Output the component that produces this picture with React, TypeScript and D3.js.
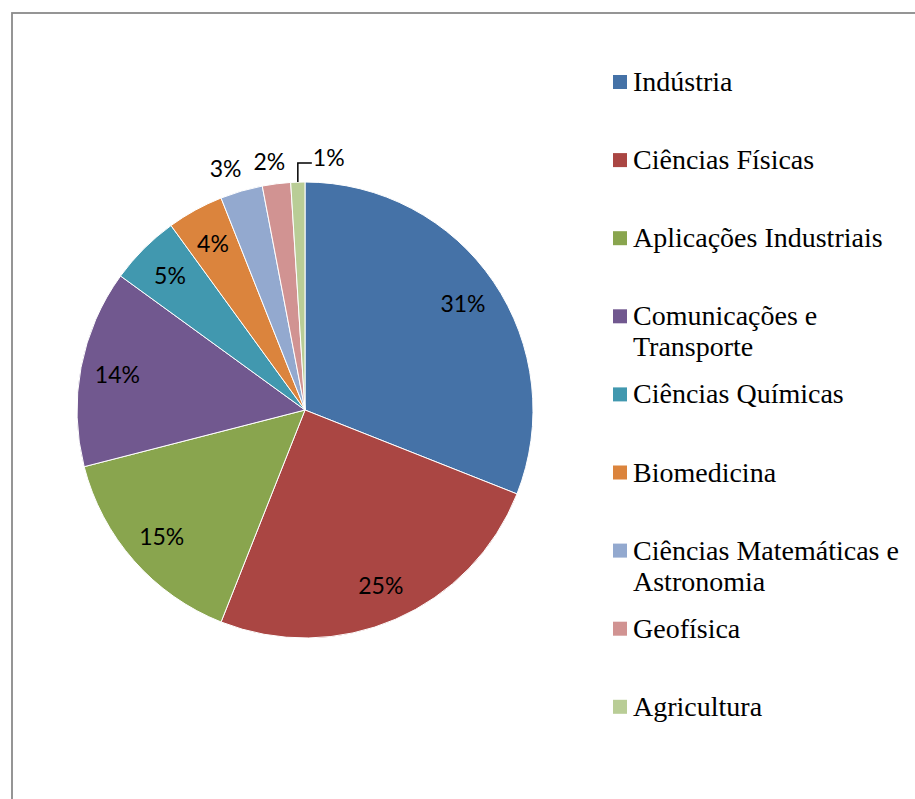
import React from "react";
import * as d3 from "d3";

const categories = [
  "Indústria",
  "Ciências Físicas",
  "Aplicações Industriais",
  "Comunicações e Transporte",
  "Ciências Químicas",
  "Biomedicina",
  "Ciências Matemáticas e Astronomia",
  "Geofísica",
  "Agricultura",
];
const values = [31, 25, 15, 14, 5, 4, 3, 2, 1];
const legendLines = [
  ["Indústria"],
  ["Ciências Físicas"],
  ["Aplicações Industriais"],
  ["Comunicações e", "Transporte"],
  ["Ciências Químicas"],
  ["Biomedicina"],
  ["Ciências Matemáticas e", "Astronomia"],
  ["Geofísica"],
  ["Agricultura"],
];
const colors = [
  "#4572A7",
  "#AA4643",
  "#89A54E",
  "#71588F",
  "#4198AF",
  "#DB843D",
  "#93A9CF",
  "#D19392",
  "#B9CD96",
];
// label placement mode: inside, outside, leader
const labelMode = ["in", "in", "in", "in", "in", "in", "out", "out", "leader"];

export default function App() {
  const W = 915;
  const H = 799;
  const cx = 305;
  const cy = 410;
  const R = 228;
  const pie = d3.pie<number>().sort(null).value((d) => d)(values);
  const arc = d3.arc<d3.PieArcDatum<number>>().innerRadius(0).outerRadius(R);
  const total = d3.sum(values);
  const labelFont = "Lato, 'Open Sans', sans-serif";
  const legendFont = "'Liberation Serif', 'DejaVu Serif', serif";
  const labelSize = 23;

  const legendX = 613;
  const legendY0 = 82;
  const legendStep = 78.1;

  return (
    <svg
      width={W}
      height={H}
      style={{ position: "absolute", left: 0, top: 0, background: "#fff" }}
    >
      <rect x={0} y={0} width={W} height={H} fill="#fff" />
      <rect
        x={12}
        y={13}
        width={W + 20}
        height={H + 20}
        fill="none"
        stroke="#8a8a8a"
        strokeWidth={1.8}
      />
      <g transform={`translate(${cx},${cy})`}>
        {pie.map((p, i) => (
          <path key={i} d={arc(p) || ""} fill={colors[i]} stroke="#fff" strokeWidth={1} />
        ))}
        {pie.map((p, i) => {
          const mid = (p.startAngle + p.endAngle) / 2;
          const pct = `${Math.round((p.value / total) * 100)}%`;
          const mode = labelMode[i];
          if (mode === "leader") {
            const px = R * Math.sin(mid);
            const py = -R * Math.cos(mid);
            const ty = py - 19;
            const tx = px + 14;
            return (
              <g key={i}>
                <polyline
                  points={`${px},${py} ${px},${ty} ${tx},${ty}`}
                  fill="none"
                  stroke="#000"
                  strokeWidth={1.5}
                />
                <text
                  x={tx + 1}
                  y={ty - 6}
                  fontFamily={labelFont}
                  fontSize={labelSize}
                  fill="#000"
                  dominantBaseline="central"
                >
                  {pct}
                </text>
              </g>
            );
          }
          if (mode === "out") {
            const ro = R + 10;
            const px = ro * Math.sin(mid);
            const py = -ro * Math.cos(mid);
            const halfW = 15.5;
            const k = Math.max(-1, Math.min(1, Math.sin(mid) * 3));
            return (
              <text
                key={i}
                x={px + k * halfW}
                y={py - 4}
                fontFamily={labelFont}
                fontSize={labelSize}
                fill="#000"
                textAnchor="middle"
              >
                {pct}
              </text>
            );
          }
          const r = 191;
          const x = r * Math.sin(mid);
          const y = -r * Math.cos(mid);
          return (
            <text
              key={i}
              x={x}
              y={y}
              fontFamily={labelFont}
              fontSize={labelSize}
              fill="#000"
              textAnchor="middle"
              dominantBaseline="central"
            >
              {pct}
            </text>
          );
        })}
      </g>
      <g>
        {categories.map((c, i) => {
          const y = legendY0 + i * legendStep;
          return (
            <g key={c}>
              <rect x={legendX} y={y - 7} width={14} height={14} fill={colors[i]} />
              <text
                x={legendX + 20}
                y={y + 9}
                fontFamily={legendFont}
                fontSize={28}
                fill="#000"
              >
                {legendLines[i].map((ln, j) => (
                  <tspan key={j} x={legendX + 20} dy={j === 0 ? 0 : 31}>
                    {ln}
                  </tspan>
                ))}
              </text>
            </g>
          );
        })}
      </g>
    </svg>
  );
}
